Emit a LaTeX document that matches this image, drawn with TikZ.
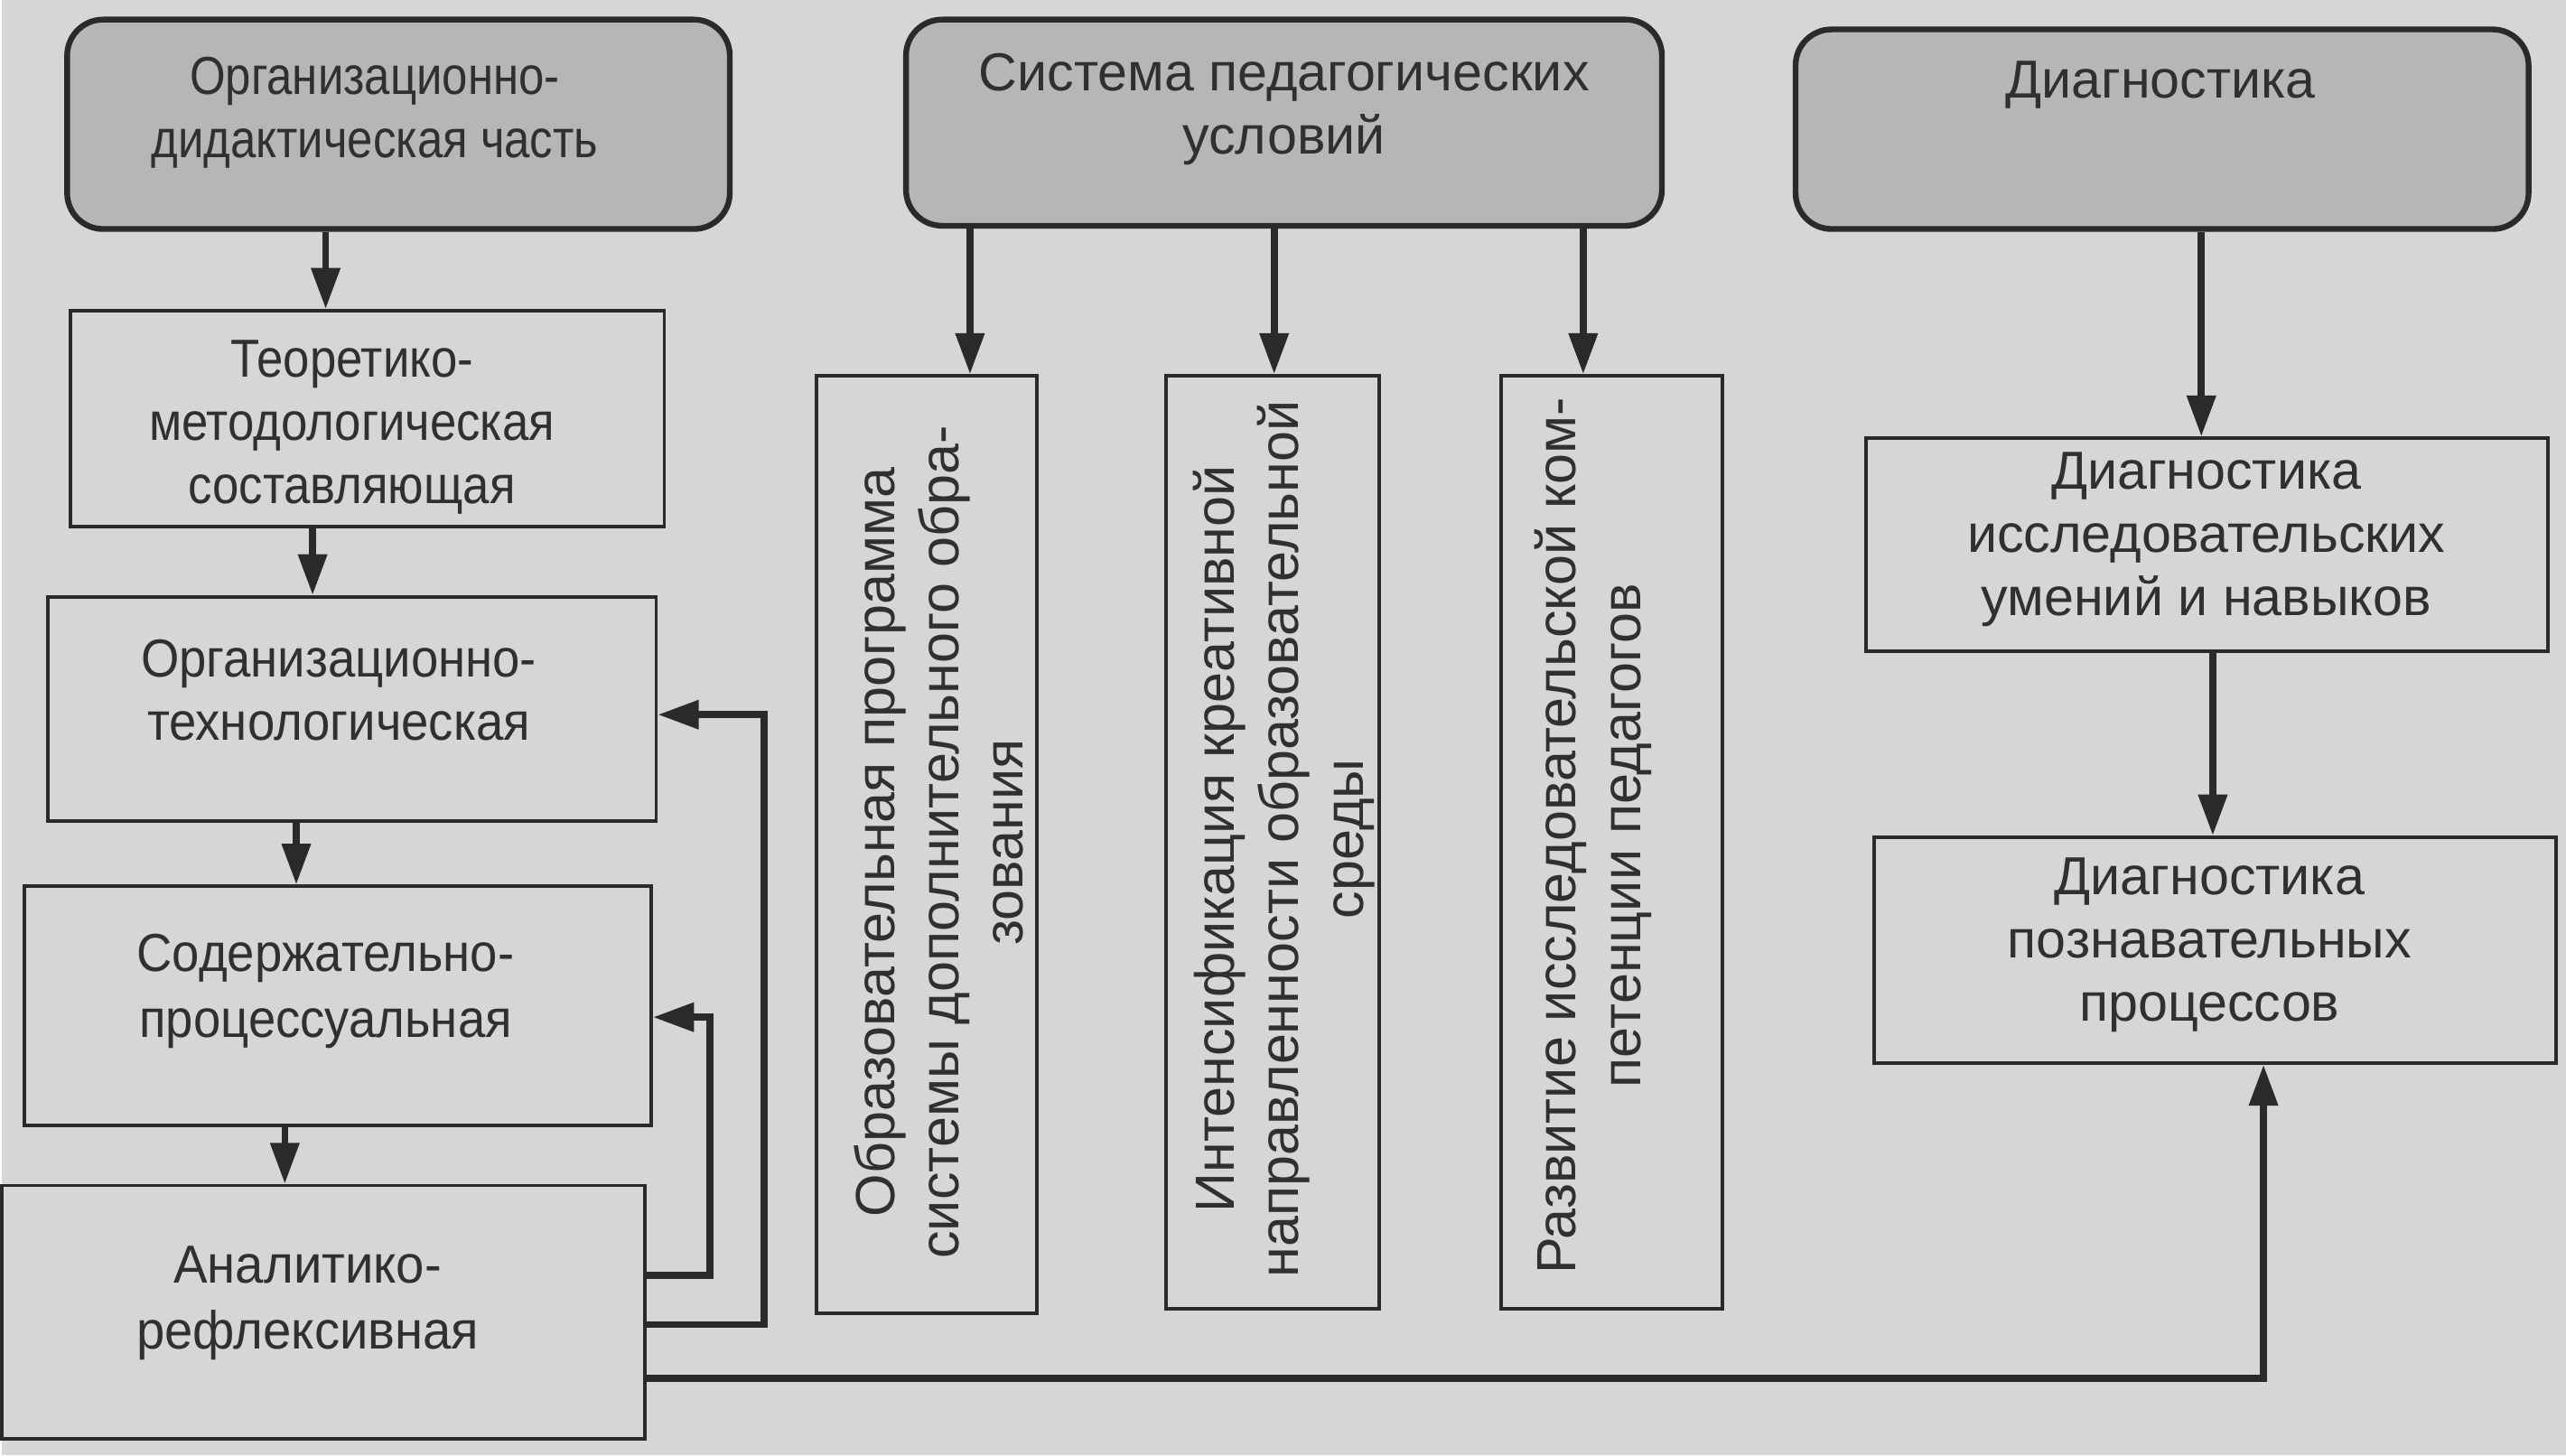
\documentclass[tikz,border=0pt]{standalone}
\usepackage{fontspec}
\setmainfont{Liberation Sans}
\newfontfamily\stA[FakeStretch=0.86]{Liberation Sans}
\newfontfamily\stB[FakeStretch=0.89]{Liberation Sans}
\newfontfamily\stC[FakeStretch=0.92]{Liberation Sans}
\newfontfamily\stD[FakeStretch=0.95]{Liberation Sans}
\usetikzlibrary{arrows.meta,calc}
\definecolor{paper}{HTML}{D7D5D5}
\definecolor{topfill}{HTML}{B7B5B5}
\definecolor{lin}{HTML}{2A2A2A}
\definecolor{txt}{HTML}{303030}
\begin{document}
\begin{tikzpicture}[x=0.01cm,y=-0.01cm,
  every node/.style={font=\fontsize{9.3}{11}\selectfont, text=txt, align=center},
  topbox/.style={draw=lin, line width=1pt, fill=topfill, rounded corners=0.22cm, inner sep=0pt},
  plainbox/.style={draw=lin, line width=0.6pt, fill=paper, inner sep=0pt},
  vtext/.style={rotate=90, font=\fontsize{9.6}{11.2}\selectfont},
  arr/.style={draw=lin, line width=1.2pt, -{Triangle[length=2.5mm,width=1.7mm]}},
]
\fill[paper] (0,0) rectangle (1568,890);

% top boxes
\node[topbox, minimum width=4.05cm, minimum height=1.28cm] (t1) at (242.5,76) {};
\node[font=\stA\fontsize{9.3}{11}\selectfont] (t1t) at (228,69) {Организационно-\\дидактическая часть};
\node[topbox, minimum width=4.62cm, minimum height=1.26cm] (t2) at (784,75) {};
\node (t2t) at (784,67) {Система педагогических\\условий};
\node[topbox, minimum width=4.48cm, minimum height=1.22cm] (t3) at (1321,79) {};
\node (t3t) at (1320,52) {Диагностика};

% left column
\node[plainbox, minimum width=3.63cm, minimum height=1.32cm] (b1) at (223.5,256) {};
\node[font=\stB\fontsize{9.3}{11}\selectfont] (b1t) at (214,261) {Теоретико-\\методологическая\\составляющая};
\node[plainbox, minimum width=3.72cm, minimum height=1.37cm] (b2) at (214,433.5) {};
\node[font=\stC\fontsize{9.3}{11}\selectfont] (b2t) at (206,422) {Организационно-\\технологическая};
\node[plainbox, minimum width=3.83cm, minimum height=1.46cm] (b3) at (205.5,615) {};
\node[font=\stC\fontsize{9.3}{11.5}\selectfont] (b3t) at (198,606) {Содержательно-\\процессуальная};
\node[plainbox, minimum width=3.93cm, minimum height=1.55cm] (b4) at (196.5,802.5) {};
\node[font=\stD\fontsize{9.3}{11.5}\selectfont] (b4t) at (187,797) {Аналитико-\\рефлексивная};

% middle vertical boxes
\node[plainbox, minimum width=1.35cm, minimum height=5.73cm] (v1) at (565.5,516.5) {};
\node[vtext] (v1t) at (573,515) {Образовательная программа\\системы дополнительного обра-\\зования};
\node[plainbox, minimum width=1.30cm, minimum height=5.70cm] (v2) at (777,515) {};
\node[vtext] (v2t) at (784,513) {Интенсификация креативной\\направленности образовательной\\среды};
\node[plainbox, minimum width=1.35cm, minimum height=5.70cm] (v3) at (984.5,515) {};
\node[vtext] (v3t) at (973,511) {Развитие исследовательской ком-\\петенции педагогов};

% right column
\node[plainbox, minimum width=4.17cm, minimum height=1.30cm] (d1) at (1348.5,333) {};
\node (d1t) at (1348,330) {Диагностика\\исследовательских\\умений и навыков};
\node[plainbox, minimum width=4.17cm, minimum height=1.38cm] (d2) at (1353.5,581) {};
\node (d2t) at (1350,578) {Диагностика\\познавательных\\процессов};

% x positions of arrows
\coordinate (xa) at (198,0);
\coordinate (xb) at (190,0);
\coordinate (xc) at (180,0);
\coordinate (xd) at (173,0);
\coordinate (xv1) at (592,0);
\coordinate (xv2) at (778,0);
\coordinate (xv3) at (967,0);
\coordinate (xd1) at (1345,0);
\coordinate (xd2) at (1352,0);

\draw[arr] (t1.south -| xa) -- (b1.north -| xa);
\draw[arr] (b1.south -| xb) -- (b2.north -| xb);
\draw[arr] (b2.south -| xc) -- (b3.north -| xc);
\draw[arr] (b3.south -| xd) -- (b4.north -| xd);

\draw[arr] (t2.south -| xv1) -- (v1.north -| xv1);
\draw[arr] (t2.south -| xv2) -- (v2.north -| xv2);
\draw[arr] (t2.south -| xv3) -- (v3.north -| xv3);

\draw[arr] (t3.south -| xd1) -- (d1.north -| xd1);
\draw[arr] (d1.south -| xd2) -- (d2.north -| xd2);

% feedback loops
\coordinate (y1) at (0,780);
\coordinate (y2) at (0,810);
\coordinate (y3) at (0,843);
\coordinate (k1) at (433,622);
\coordinate (k2) at (466,437);
\coordinate (k3) at (1383,650);
\draw[arr] (b4.east |- y1) -| (k1) -- (b3.east |- k1);
\draw[arr] (b4.east |- y2) -| (k2) -- (b2.east |- k2);
\draw[arr] (b4.east |- y3) -| (d2.south -| k3);
\end{tikzpicture}
\end{document}
